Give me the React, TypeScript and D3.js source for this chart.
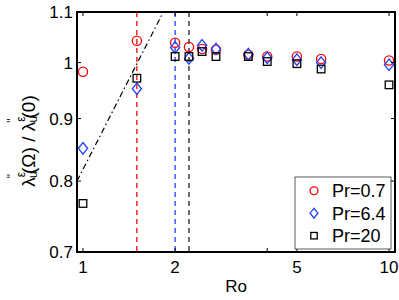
import React from 'react';
import * as d3 from 'd3';

// Rossby numbers sampled
const ro = [1, 1.5, 2, 2.22, 2.45, 2.72, 3.47, 4, 5, 6, 10];

// normalised lambda for each Prandtl number
const pr07 = [0.983, 1.042, 1.038, 1.030, 1.026, 1.0245, 1.015, 1.0115, 1.0115, 1.0067, 1.004];
const pr64 = [0.851, 0.952, 1.029, 1.008, 1.033, 1.026, 1.016, 1.009, 1.0055, 1.0, 0.996];
const pr20 = [0.767, 0.971, 1.0115, 1.0115, 1.021, 1.0115, 1.0115, 1.002, 0.998, 0.988, 0.959];

// critical Ro markers (vertical dashed lines)
const criticalRo = [
  { ro: 1.5, color: '#ff0000' },
  { ro: 2.0, color: '#2040ff' },
  { ro: 2.22, color: '#222222' },
];

// power-law guide line, end points
const fitLine = [
  { ro: 0.956, v: 0.8 },
  { ro: 1.83, v: 1.1 },
];

const xTicks = [1, 2, 4, 5, 10];
const xLabels = [1, 2, 5, 10];
const yTicks = [0.7, 0.8, 0.9, 1, 1.1];

const series = [
  { name: 'Pr=0.7', values: pr07, color: '#ff0000', shape: 'circle' },
  { name: 'Pr=6.4', values: pr64, color: '#2040ff', shape: 'diamond' },
  { name: 'Pr=20', values: pr20, color: '#000000', shape: 'square' },
];

const W = 399;
const H = 300;
const left = 77, right = 395, top = 12, bottom = 252;
const font = '"Liberation Sans", Arial, sans-serif';

const Marker = ({ shape, x, y, color, k = 1 }) => {
  if (shape === 'circle') {
    return <circle cx={x} cy={y} r={4.6 * k} fill="none" stroke={color} strokeWidth={1.3} />;
  }
  if (shape === 'diamond') {
    const w = 4.6 * k, h = 5.8 * k;
    return (
      <path
        d={`M${x},${y - h}L${x + w},${y}L${x},${y + h}L${x - w},${y}Z`}
        fill="none"
        stroke={color}
        strokeWidth={1.3}
      />
    );
  }
  const s = 3.8 * k;
  return <rect x={x - s} y={y - s} width={2 * s} height={2 * s} fill="none" stroke={color} strokeWidth={1.3} />;
};

export default function App() {
  const x = d3.scaleLog().domain([0.956, 10.46]).range([left, right]);
  const y = d3.scaleLog().domain([0.7, 1.1]).range([bottom, top]);

  const line = d3.line<{ ro: number; v: number }>()
    .x(d => x(d.ro))
    .y(d => y(d.v));

  const tickLen = 4;

  return (
    <div style={{ position: 'absolute', left: 0, top: 0 }}>
      <svg width={W} height={H} style={{ display: 'block', background: '#fff' }} fontFamily={font}>
        <defs>
          <clipPath id="plot">
            <rect x={left} y={top} width={right - left} height={bottom - top} />
          </clipPath>
        </defs>

        {/* vertical dashed lines */}
        {criticalRo.map(c => (
          <line
            key={c.ro}
            x1={x(c.ro)}
            x2={x(c.ro)}
            y1={top}
            y2={bottom}
            stroke={c.color}
            strokeWidth={1.3}
            strokeDasharray="5,4"
          />
        ))}

        {/* dash-dot guide */}
        <path
          d={line(fitLine) || ''}
          clipPath="url(#plot)"
          fill="none"
          stroke="#000"
          strokeWidth={1.2}
          strokeDasharray="6,3,1.5,3"
        />

        {/* data */}
        {series.map(s => (
          <g key={s.name}>
            {s.values.map((v, i) => (
              <Marker key={i} shape={s.shape} x={x(ro[i])} y={y(v)} color={s.color} />
            ))}
          </g>
        ))}

        {/* ticks */}
        {xTicks.map(t => (
          <g key={'xt' + t}>
            <line x1={x(t)} x2={x(t)} y1={bottom} y2={bottom - tickLen} stroke="#000" />
            <line x1={x(t)} x2={x(t)} y1={top} y2={top + tickLen} stroke="#000" />
          </g>
        ))}
        {yTicks.map(t => (
          <g key={'yt' + t}>
            <line x1={left} x2={left + tickLen} y1={y(t)} y2={y(t)} stroke="#000" />
            <line x1={right} x2={right - tickLen} y1={y(t)} y2={y(t)} stroke="#000" />
          </g>
        ))}

        {/* frame */}
        <rect x={left} y={top} width={right - left} height={bottom - top} fill="none" stroke="#000" strokeWidth={2} />

        {/* tick labels */}
        {xLabels.map(t => (
          <text key={'xl' + t} x={x(t)} y={273} textAnchor="middle" fontSize={17}>
            {t}
          </text>
        ))}
        {yTicks.map(t => (
          <text key={'yl' + t} x={73} y={y(t) + 6} textAnchor="end" fontSize={17}>
            {t}
          </text>
        ))}

        {/* axis labels */}
        <text x={(left + right) / 2} y={292} textAnchor="middle" fontSize={17}>Ro</text>
        <text transform="translate(35,141) rotate(-90)" textAnchor="middle" fontSize={19}>
          λ
          <tspan dy={-10} fontSize={12}>ε</tspan>
          <tspan dx={-6} dy={12} fontSize={12}>u</tspan>
          <tspan dx={-7} dy={-21} fontSize={12}>"</tspan>
          <tspan dy={19}>(Ω) / λ</tspan>
          <tspan dy={-10} fontSize={12}>ε</tspan>
          <tspan dx={-6} dy={12} fontSize={12}>u</tspan>
          <tspan dx={-7} dy={-21} fontSize={12}>"</tspan>
          <tspan dy={19}>(0)</tspan>
        </text>

        {/* legend */}
        <rect x={295} y={177} width={96} height={72} fill="#fff" stroke="#333" strokeWidth={0.8} />
        {series.map((s, i) => (
          <g key={'lg' + s.name}>
            <Marker shape={s.shape} x={314} y={190.7 + i * 22.5} color={s.color} k={0.85} />
            <text x={332} y={190.7 + i * 22.5 + 6.5} fontSize={18}>{s.name}</text>
          </g>
        ))}
      </svg>
    </div>
  );
}
